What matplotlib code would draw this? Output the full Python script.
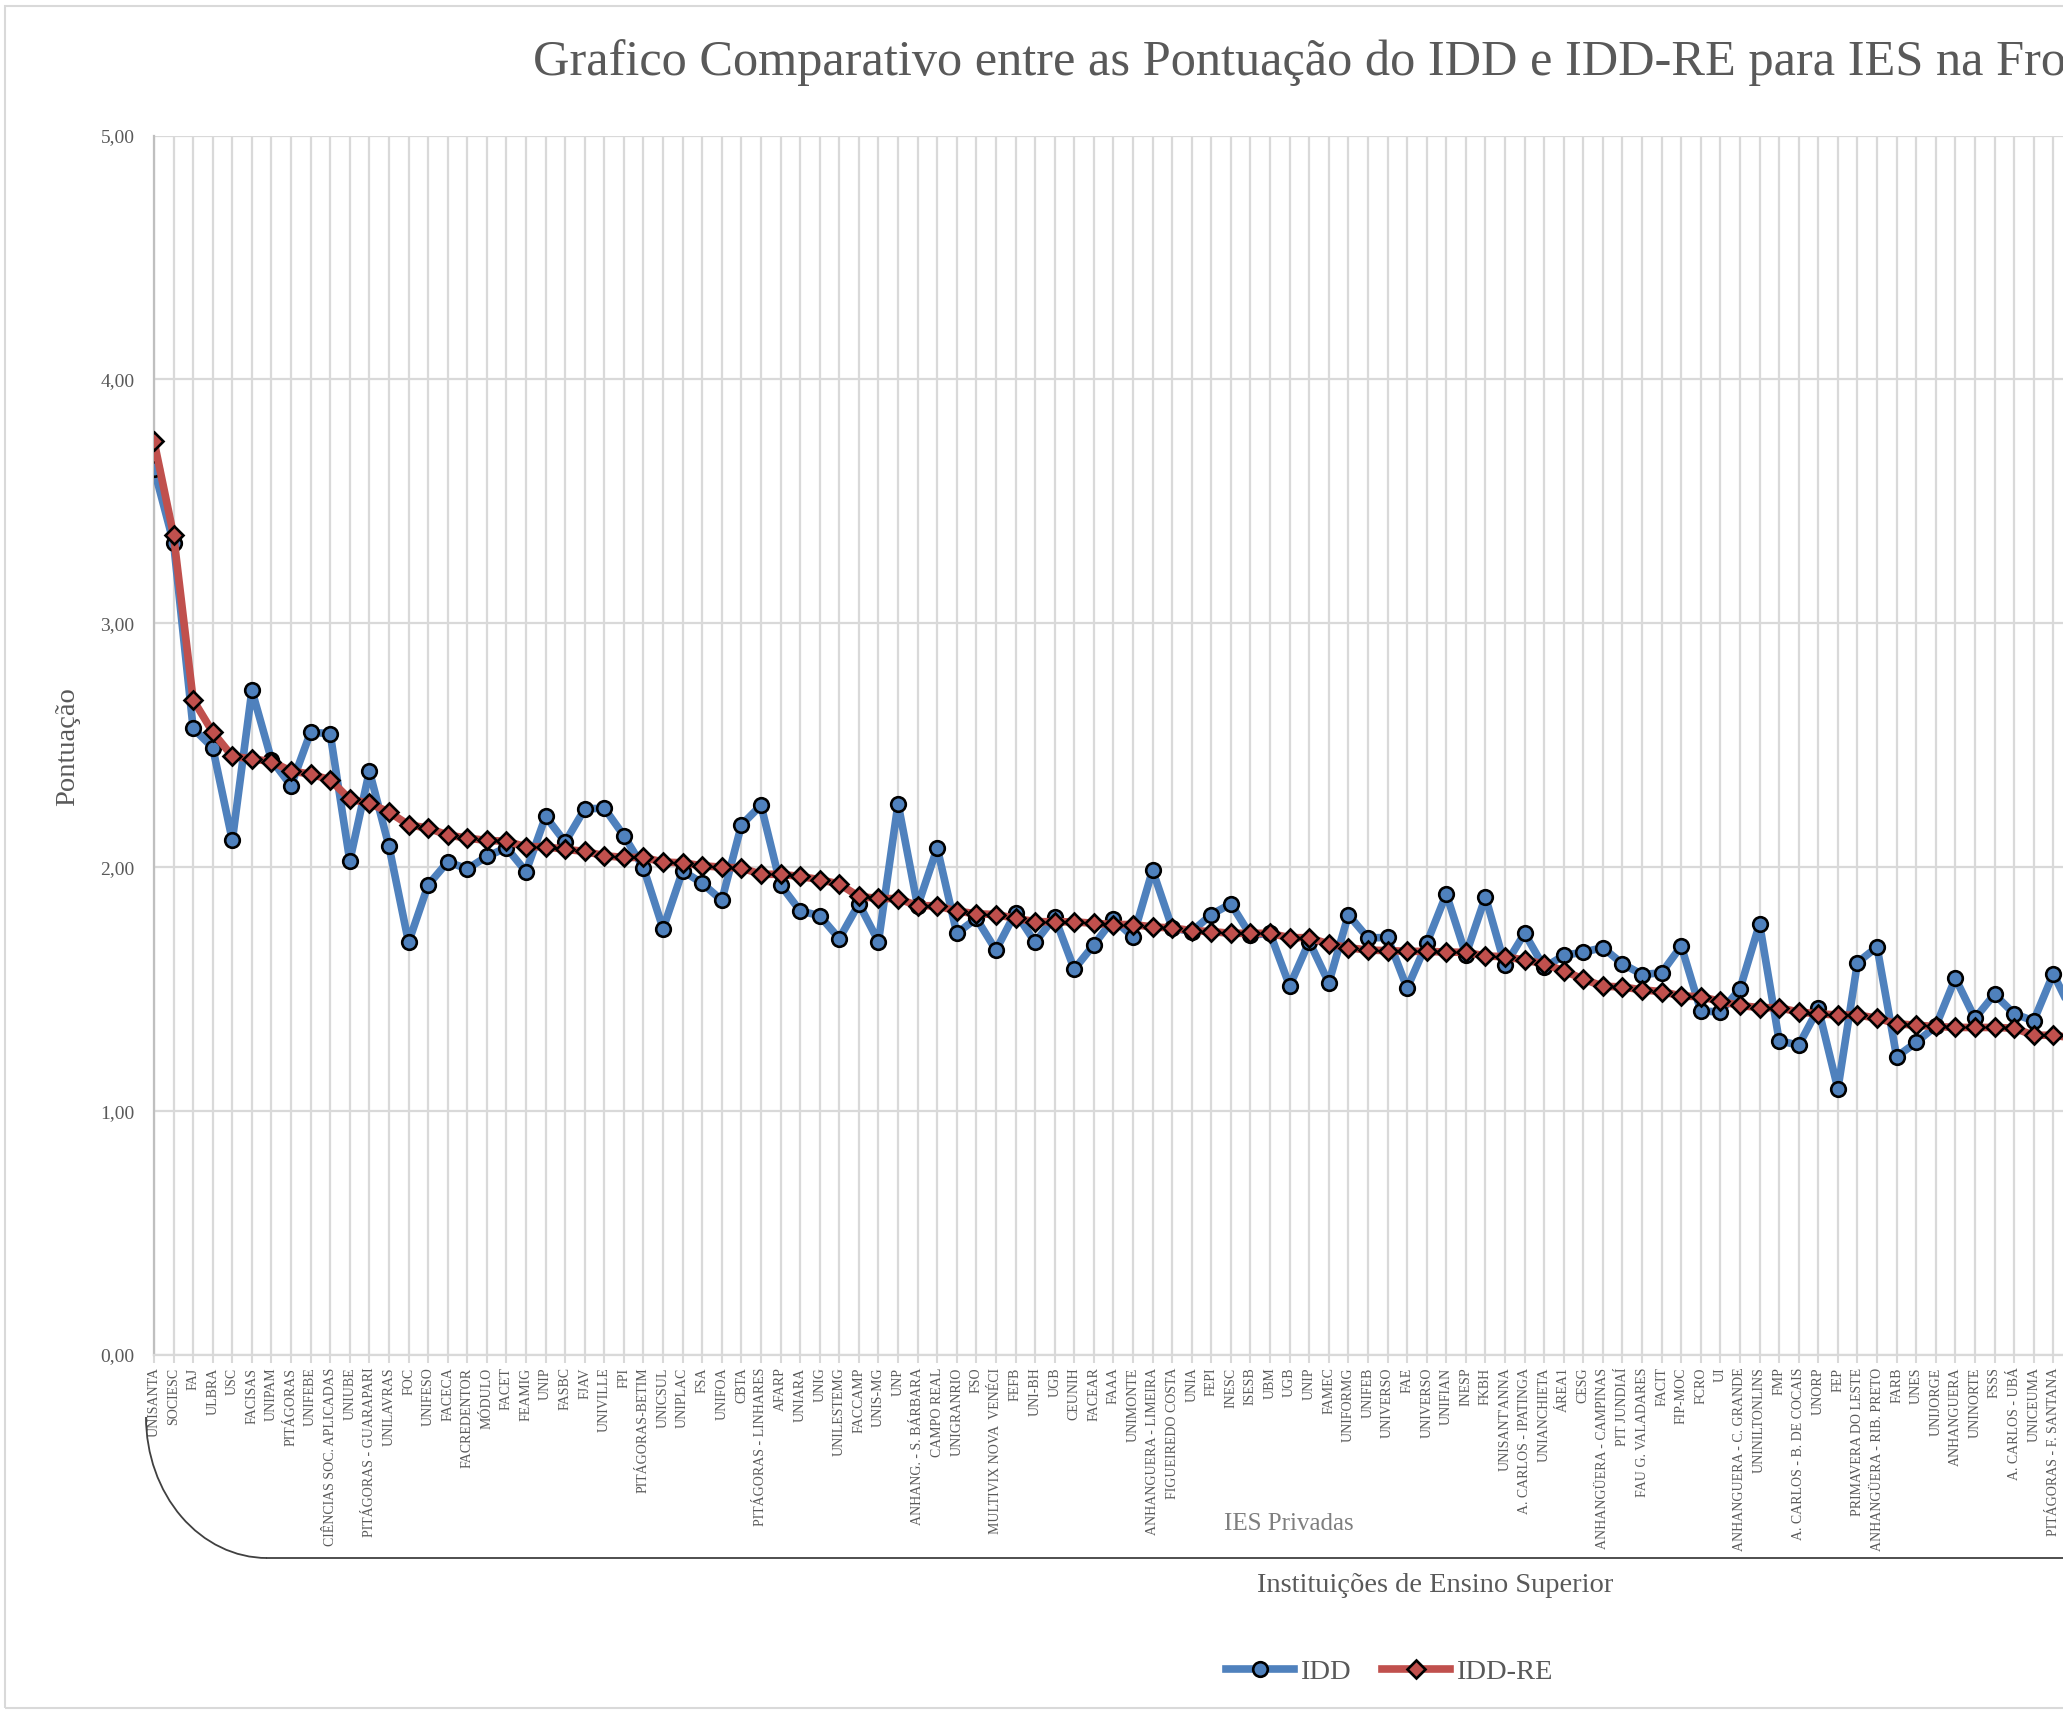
import matplotlib
matplotlib.use("Agg")
import matplotlib.pyplot as plt
from matplotlib.patches import Arc, Rectangle
from matplotlib.lines import Line2D

plt.rcParams['font.family'] = ['Liberation Serif', 'DejaVu Serif']

# category labels visible in the picture (chart is cut off on the right)
labels = ["UNISANTA", "SOCIESC", "FAJ", "ULBRA", "USC", "FACISAS", "UNIPAM", "PITÁGORAS", "UNIFEBE",
          "CIÊNCIAS SOC. APLICADAS", "UNIUBE", "PITÁGORAS - GUARAPARI", "UNILAVRAS", "FOC", "UNIFESO",
          "FACECA", "FACREDENTOR", "MÓDULO", "FACET", "FEAMIG", "UNIP", "FASBC", "FJAV", "UNIVILLE",
          "FPI", "PITÁGORAS-BETIM", "UNICSUL", "UNIPLAC", "FSA", "UNIFOA", "CBTA", "PITÁGORAS - LINHARES",
          "AFARP", "UNIARA", "UNIG", "UNILESTEMG", "FACCAMP", "UNIS-MG", "UNP", "ANHANG. - S. BÁRBARA",
          "CAMPO REAL", "UNIGRANRIO", "FSO", "MULTIVIX NOVA  VENÉCI", "FEFB", "UNI-BH", "UGB", "CEUNIH",
          "FACEAR", "FAAA", "UNIMONTE", "ANHANGUERA - LIMEIRA", "FIGUEIREDO COSTA", "UNIA", "FEPI",
          "INESC", "ISESB", "UBM", "UGB", "UNIP", "FAMEC", "UNIFORMG", "UNIFEB", "UNIVERSO", "FAE",
          "UNIVERSO", "UNIFIAN", "INESP", "FKBH", "UNISANT'ANNA", "A. CARLOS - IPATINGA", "UNIANCHIETA",
          "ÁREA1", "CESG", "ANHANGÜERA - CAMPINAS", "PIT JUNDIAÍ", "FAU G. VALADARES", "FACIT", "FIP-MOC",
          "FCRO", "UI", "ANHANGUERA - C. GRANDE", "UNINILTONLINS", "FMP", "A. CARLOS - B. DE COCAIS",
          "UNORP", "FEP", "PRIMAVERA DO LESTE", "ANHANGÜERA - RIB. PRETO", "FARB", "UNES", "UNIJORGE",
          "ANHANGUERA", "UNINORTE", "FSSS", "A. CARLOS - UBÁ", "UNICEUMA", "PITÁGORAS - F. SANTANA"]

idd = [3.633, 3.330, 2.569, 2.490, 2.110, 2.725, 2.440, 2.334, 2.554, 2.547,
       2.026, 2.394, 2.086, 1.692, 1.927, 2.022, 1.993, 2.044, 2.080, 1.982,
       2.208, 2.103, 2.239, 2.242, 2.129, 1.997, 1.748, 1.985, 1.934, 1.864,
       2.173, 2.254, 1.927, 1.821, 1.801, 1.707, 1.850, 1.695, 2.261, 1.840,
       2.079, 1.729, 1.790, 1.660, 1.814, 1.692, 1.795, 1.582, 1.682, 1.787,
       1.714, 1.988, 1.751, 1.736, 1.806, 1.850, 1.721, 1.729, 1.513, 1.695,
       1.526, 1.805, 1.710, 1.712, 1.504, 1.688, 1.890, 1.641, 1.878, 1.597,
       1.729, 1.589, 1.638, 1.652, 1.670, 1.604, 1.560, 1.567, 1.677, 1.411,
       1.406, 1.501, 1.768, 1.289, 1.270, 1.421, 1.091, 1.609, 1.673, 1.223,
       1.282, 1.348, 1.545, 1.380, 1.479, 1.399, 1.370, 1.563, 1.400]

idd_re = [3.747, 3.361, 2.686, 2.554, 2.455, 2.444, 2.433, 2.394, 2.382, 2.358,
          2.279, 2.262, 2.226, 2.174, 2.160, 2.132, 2.119, 2.110, 2.106, 2.084,
          2.084, 2.073, 2.065, 2.047, 2.040, 2.040, 2.021, 2.018, 2.006, 2.000,
          1.997, 1.971, 1.971, 1.962, 1.949, 1.931, 1.880, 1.872, 1.871, 1.842,
          1.842, 1.820, 1.809, 1.806, 1.790, 1.777, 1.776, 1.776, 1.770, 1.765,
          1.765, 1.755, 1.751, 1.740, 1.736, 1.729, 1.729, 1.729, 1.711, 1.711,
          1.685, 1.670, 1.660, 1.658, 1.655, 1.655, 1.652, 1.651, 1.636, 1.633,
          1.619, 1.604, 1.575, 1.541, 1.512, 1.509, 1.497, 1.490, 1.472, 1.469,
          1.450, 1.433, 1.424, 1.424, 1.406, 1.399, 1.394, 1.394, 1.381, 1.358,
          1.352, 1.347, 1.343, 1.343, 1.343, 1.340, 1.311, 1.311, 1.300]

n_total = 132  # whole chart is wider than the picture
gray = '#595959'

W, H = 2063, 1713
fig = plt.figure(figsize=(W / 100, H / 100), dpi=100)

# chart area border (partly cut off)
fig.patches.append(Rectangle((5 / W, 1 - 1708 / H), 1.2, 1702 / H, transform=fig.transFigure,
                             fill=False, edgecolor='#D9D9D9', lw=1.5))

spacing = 19.58
ax = fig.add_axes([154 / W, 358 / H, (n_total - 1) * spacing / W, 1219.5 / H])

x = list(range(len(idd)))
ax.plot(x, idd, color='#4F81BD', lw=5.5, marker='o', ms=10.5, mfc='#4F81BD', mec='black', mew=1.9,
        label='IDD', zorder=3, solid_joinstyle='round')
ax.plot(x, idd_re, color='#C0504D', lw=5.5, marker='D', ms=9, mfc='#C0504D', mec='black', mew=1.9,
        label='IDD-RE', zorder=4, solid_joinstyle='round')

ax.set_xlim(0, n_total - 1)
ax.set_ylim(0, 5)
ax.set_yticks([0, 1, 2, 3, 4, 5])
ax.set_yticklabels(['0,00', '1,00', '2,00', '3,00', '4,00', '5,00'], fontsize=14, color=gray)
ax.set_xticks(range(len(labels)))
ax.set_xticklabels(labels, rotation=90, fontsize=10, color=gray, va='top', ha='center')
ax.tick_params(axis='x', length=6, color='#D9D9D9', width=1.5, pad=3)
ax.tick_params(axis='y', length=0, pad=14)

ax.grid(True, color='#D9D9D9', lw=1.6, zorder=0)
ax.set_axisbelow(True)
for s in ['top', 'right']:
    ax.spines[s].set_visible(False)
ax.spines['left'].set_color('#BFBFBF')
ax.spines['left'].set_linewidth(1.6)
ax.spines['bottom'].set_color('#D9D9D9')
ax.spines['bottom'].set_linewidth(1.6)

# title (centre is outside the visible picture)
fig.text(533 / W, 1 - 63 / H,
         'Grafico Comparativo entre as Pontuação do IDD e IDD-RE para IES na Fronteira',
         fontsize=36.3, color=gray, ha='left', va='center')

fig.text(68 / W, 1 - 747 / H, 'Pontuação', rotation=90, fontsize=20.5, color=gray,
         ha='center', va='center')
fig.text(1435 / W, 1 - 1585 / H, 'Instituições de Ensino Superior', fontsize=20.5, color=gray,
         ha='center', va='center')
fig.text(1289 / W, 1 - 1524 / H, 'IES Privadas', fontsize=18, color='#7F7F7F',
         ha='center', va='center')

# group bracket under the category labels
fig.patches.append(Arc((267 / W, 1 - 1417 / H), 2 * 121 / W, 2 * 141 / H, theta1=180, theta2=270,
                       transform=fig.transFigure, color='#404040', lw=1.3))
fig.lines.append(Line2D([267 / W, 1.2], [1 - 1558 / H, 1 - 1558 / H], transform=fig.transFigure,
                        color='#404040', lw=1.3))

fig.legend(loc='center', bbox_to_anchor=(1389 / W, 1 - 1672 / H), ncol=2, frameon=False,
           fontsize=20.5, handlelength=2.4, columnspacing=1.1, handletextpad=0.2,
           labelcolor=gray)

fig.savefig('out.png', dpi=100)
